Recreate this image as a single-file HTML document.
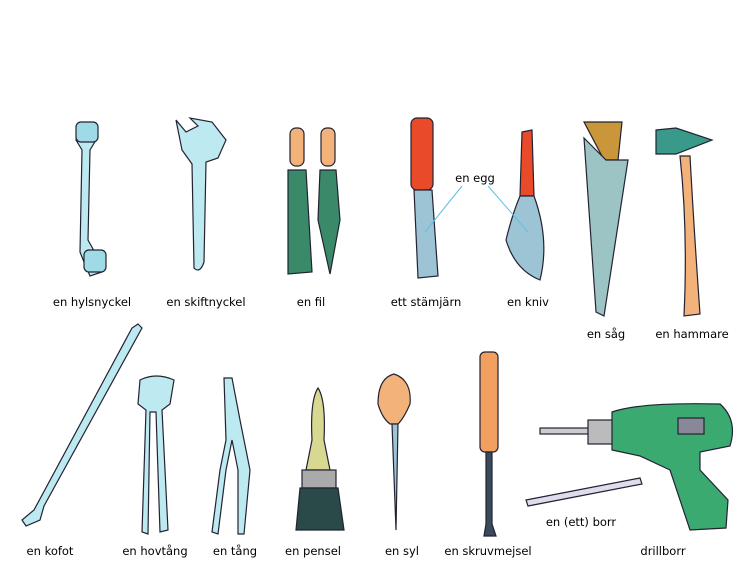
<!DOCTYPE html>
<html><head><meta charset="utf-8"><style>
html,body{margin:0;padding:0;background:#fff}
svg{display:block}
text{font-family:"DejaVu Sans","Liberation Sans",sans-serif;font-size:11.5px;fill:#000}
</style></head><body>
<svg width="750" height="580" viewBox="0 0 750 580">
<g stroke="#223" stroke-width="1.2">
<!-- hylsnyckel -->
<g>
<path d="M78 128 L92 124 L96 140 L90 150 L88 240 L98 258 L102 272 L90 276 L84 262 L80 252 L82 150 L76 140Z" fill="#bde9f0"/>
<rect x="76" y="122" width="22" height="20" rx="5" fill="#9fdbe6"/>
<rect x="84" y="250" width="22" height="22" rx="5" fill="#9fdbe6"/>
</g>
<!-- skiftnyckel -->
<g>
<path d="M176 120 L186 132 L198 126 L190 118 L212 122 L226 140 L218 158 L206 162 L204 262 Q200 274 194 268 L192 164 L182 150 Z" fill="#bde9f0"/>
</g>
<!-- filar -->
<g>
<rect x="290" y="128" width="14" height="38" rx="6" fill="#f2b27a"/>
<path d="M288 170 L306 170 L312 272 L288 274 Z" fill="#3a8a6a"/>
<rect x="321" y="128" width="14" height="38" rx="6" fill="#f2b27a"/>
<path d="M320 170 L336 170 L340 220 L330 274 L318 220 Z" fill="#3a8a6a"/>
</g>
<!-- stämjärn -->
<g>
<rect x="411" y="118" width="22" height="72" rx="6" fill="#e84a2a"/>
<path d="M414 190 L432 190 L438 276 L418 278 Z" fill="#9cc4d4"/>
</g>
<!-- kniv -->
<g>
<path d="M522 132 L532 130 L534 196 L520 196 Z" fill="#e84a2a"/>
<path d="M520 196 L534 196 Q550 240 540 280 Q515 270 506 240 Q512 215 520 196Z" fill="#9cc4d4"/>
</g>
<!-- såg -->
<g>
<path d="M584 122 L622 122 L618 160 L604 160 Z" fill="#c9963a"/>
<path d="M584 138 L606 160 L628 160 L604 316 L596 312 Z" fill="#9cc4c4"/>
</g>
<!-- hammare -->
<g>
<path d="M656 130 L676 128 L712 140 L676 154 L656 154 Z" fill="#3a9a8a"/>
<path d="M680 156 L690 156 Q694 230 700 314 L684 316 Q688 230 680 156Z" fill="#f2b27a"/>
</g>
<!-- kofot -->
<g>
<path d="M138 324 L142 328 L44 506 L40 520 L26 526 L22 520 L34 510 L132 328 Z" fill="#bde9f0"/>
</g>
<!-- hovtång -->
<g>
<path d="M140 380 Q156 372 174 380 L170 404 L162 410 L168 530 L160 532 L156 412 L150 412 L148 534 L142 532 L146 410 L138 404Z" fill="#bde9f0"/>
</g>
<!-- tång -->
<g>
<path d="M224 378 L232 378 L240 420 L250 470 L244 534 L238 534 L238 470 L232 440 L226 470 L218 534 L212 532 L220 470 L226 440 Z" fill="#bde9f0"/>
</g>
<!-- pensel -->
<g>
<path d="M318 388 Q326 400 324 440 L330 470 L306 470 L312 440 Q310 400 318 388Z" fill="#d8d890"/>
<rect x="302" y="470" width="34" height="18" fill="#aaa"/>
<path d="M300 488 L338 488 L344 530 L296 530 Z" fill="#2a4a4a"/>
</g>
<!-- syl -->
<g>
<path d="M394 374 Q412 380 410 404 Q404 418 398 424 L390 424 Q382 418 378 404 Q378 378 394 374Z" fill="#f2b27a"/>
<path d="M392 424 L398 424 L396 530 Z" fill="#9cc4d4"/>
</g>
<!-- skruvmejsel -->
<g>
<rect x="480" y="352" width="18" height="100" rx="5" fill="#f2a060"/>
<path d="M486 452 L492 452 L492 524 L496 536 L484 536 L486 524 Z" fill="#3a4a5a"/>
</g>
<!-- borr -->
<g>
<path d="M526 500 L640 478 L642 484 L528 506 Z" fill="#dde"/>
</g>
<!-- drill -->
<g>
<rect x="540" y="428" width="50" height="6" fill="#ccc"/>
<rect x="588" y="420" width="26" height="24" fill="#bbb"/>
<path d="M612 412 Q640 402 720 404 Q738 420 730 446 L700 452 L700 470 L728 500 L726 528 L690 530 L670 470 L640 456 L612 450 Z" fill="#3aaa70"/>
<rect x="678" y="418" width="26" height="16" fill="#889"/>
</g>
</g>
<line x1="462" y1="186" x2="425" y2="232" stroke="#5bc0e8"/>
<line x1="488" y1="186" x2="528" y2="232" stroke="#5bc0e8"/>
<text x="475" y="182" text-anchor="middle">en egg</text>
<g text-anchor="middle">
<text x="92" y="306">en hylsnyckel</text>
<text x="206" y="306">en skiftnyckel</text>
<text x="311" y="306">en fil</text>
<text x="426" y="306">ett stämjärn</text>
<text x="528" y="306">en kniv</text>
<text x="606" y="338">en såg</text>
<text x="692" y="338">en hammare</text>
<text x="50" y="555">en kofot</text>
<text x="155" y="555">en hovtång</text>
<text x="235" y="555">en tång</text>
<text x="313" y="555">en pensel</text>
<text x="402" y="555">en syl</text>
<text x="488" y="555">en skruvmejsel</text>
<text x="581" y="526">en (ett) borr</text>
<text x="663" y="555">drillborr</text>
</g>
</svg>
</body></html>
